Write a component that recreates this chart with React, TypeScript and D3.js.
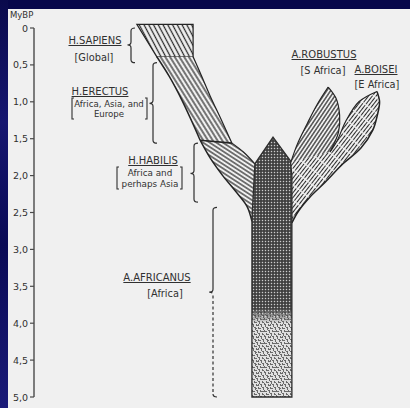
import React from "react";
import * as d3 from "d3";

const W = 410;
const H = 408;

// ---- axis data ----
const AXIS_TITLE = "MyBP";
const TICK_VALUES = [0, 0.5, 1, 1.5, 2, 2.5, 3, 3.5, 4, 4.5, 5];
const TICK_LABELS = ["0", "0,5", "1,0", "1,5", "2,0", "2,5", "3,0", "3,5", "4,0", "4,5", "5,0"];

// ---- taxa ----
const TAXA = ["H.SAPIENS", "H.ERECTUS", "H.HABILIS", "A.AFRICANUS", "A.ROBUSTUS", "A.BOISEI"];
const REGIONS = [["Global"], ["Africa, Asia, and", "Europe"], ["Africa and", "perhaps Asia"], ["Africa"], ["S Africa"], ["E Africa"]];
// time spans (MyBP) covered by each brace: [start, cusp, end]
const BRACE_SPANS = [
  [0, 0.23, 0.47],
  [0.47, 1.02, 1.56],
  [1.56, 1.97, 2.36],
  [2.43, 3.58, 5.0],
];

// ---- branch outlines: [morphology units (0-100), MyBP] ----
const SAPIENS_BLOCK: [number, number][] = [[27.8, -0.05], [43, -0.05], [43, 0.39], [33.2, 0.39]];
const ERECTUS_LEFT: [number, number][] = [[33.2, 0.39], [36.6, 0.66], [40, 0.98], [42.6, 1.26], [44.9, 1.52]];
const ERECTUS_RIGHT: [number, number][] = [[43, 0.39], [45.2, 0.64], [47.6, 0.92], [50.4, 1.22], [53.5, 1.56]];
const HABILIS_LEFT: [number, number][] = [[44.9, 1.52], [47.6, 1.76], [51, 2.0], [54.6, 2.22], [57.6, 2.42], [58.9, 2.62]];
const HABILIS_RIGHT: [number, number][] = [[53.5, 1.56], [56.6, 1.68], [59.7, 1.84]];
const AFRICANUS_TRUNK: [number, number][] = [[64.6, 1.48], [69.3, 1.8], [69.7, 2.0], [69.7, 5.0], [58.9, 5.0], [58.9, 2.6], [59.7, 1.84]];
const AFRICANUS_MOTTLE_START = 3.8;
const AFRICANUS_MOTTLE_FULL = 4.0;
const ROBUSTUS_LEFT: [number, number][] = [[69.4, 1.82], [71.2, 1.57], [73.8, 1.3], [76.6, 1.03], [79.5, 0.8]];
const ROBUSTUS_RIGHT: [number, number][] = [[79.5, 0.8], [81.6, 0.95], [82.6, 1.18], [82.3, 1.41], [80, 1.68]];
const BOISEI_LEFT: [number, number][] = [[80, 1.68], [82, 1.52], [84.2, 1.27], [87.8, 1.0], [92.7, 0.86]];
const BOISEI_RIGHT: [number, number][] = [[92.7, 0.86], [93.4, 1.0], [92.8, 1.18], [91.6, 1.38], [88.3, 1.63], [83.5, 1.84], [78.7, 2.09], [74.6, 2.29], [71.5, 2.48], [69.7, 2.64]];

// layout of annotations (pixels)
const LABEL_LAYOUT = [
  { x: 95, y: 44, rx: 94, ry: [61], rs: 9.8 },
  { x: 100, y: 95, rx: 109, ry: [107, 117], bx: [72, 147], rs: 8.6 },
  { x: 153, y: 164, rx: 150, ry: [176, 187], bx: [117, 182], rs: 8.8 },
  { x: 157, y: 281, rx: 165, ry: [297], rs: 9.8 },
  { x: 324, y: 58, rx: 323, ry: [74], rs: 9.8 },
  { x: 376, y: 73, rx: 377, ry: [88], rs: 9.8 },
];
const BRACE_X = [131, 153, 194, 213];

const INK = "#242424";
const TEXT = "#303030";
const PAPER = "#f0f0f0";
const FONT = "DejaVu Sans, sans-serif";

export default function App() {
  const xS = d3.scaleLinear().domain([0, 100]).range([34, 404]);
  const yS = d3.scaleLinear().domain([0, 5]).range([28, 397]);

  const curve = d3
    .line<[number, number]>()
    .x((d) => xS(d[0]))
    .y((d) => yS(d[1]))
    .curve(d3.curveCatmullRom.alpha(0.5));
  const straight = d3
    .line<[number, number]>()
    .x((d) => xS(d[0]))
    .y((d) => yS(d[1]));
  const closed = d3
    .line<[number, number]>()
    .x((d) => xS(d[0]))
    .y((d) => yS(d[1]))
    .curve(d3.curveLinearClosed);

  const cont = (p: string | null) => (p || "").replace(/^M/, "L");
  const rev = (a: [number, number][]) => a.slice().reverse();

  const erectusFill = (curve(ERECTUS_LEFT) || "") + cont(curve(rev(ERECTUS_RIGHT))) + "Z";
  const habLast = HABILIS_LEFT[HABILIS_LEFT.length - 1];
  const habRightEnd = HABILIS_RIGHT[HABILIS_RIGHT.length - 1];
  const habilisFill =
    (curve(HABILIS_LEFT) || "") +
    cont(straight([habLast, [habLast[0] + 2, habLast[1]], [habRightEnd[0] + 2, habRightEnd[1]], habRightEnd])) +
    cont(curve(rev(HABILIS_RIGHT))) +
    "Z";
  const robustusFill = (curve(ROBUSTUS_LEFT) || "") + cont(curve(ROBUSTUS_RIGHT)) + "Z";
  const boiseiFill =
    (curve(BOISEI_LEFT) || "") +
    cont(curve(BOISEI_RIGHT)) +
    cont(straight([BOISEI_RIGHT[BOISEI_RIGHT.length - 1], ROBUSTUS_LEFT[0]])) +
    "Z";

  const brace = (x: number, s: number[], i: number) => {
    const y0 = yS(s[0]);
    const ym = yS(s[1]);
    const y1 = yS(s[2]);
    const r = 3;
    if (i === 3) {
      return (
        <g key={"b" + i} stroke={TEXT} strokeWidth={1.2} fill="none">
          <path d={`M${x + 4},${y0} Q${x},${y0} ${x},${y0 + r} L${x},${ym - r} Q${x},${ym} ${x - 3.5},${ym}`} />
          <path d={`M${x - 3.5},${ym} Q${x},${ym} ${x},${ym + r} L${x},${y1 - r}`} strokeDasharray="3 2.5" />
          <path d={`M${x},${y1 - r} Q${x},${y1} ${x + 4},${y1}`} />
        </g>
      );
    }
    return (
      <path
        key={"b" + i}
        d={`M${x + 4},${y0} Q${x},${y0} ${x},${y0 + r} L${x},${ym - r} Q${x},${ym} ${x - 3.5},${ym} Q${x},${ym} ${x},${ym + r} L${x},${y1 - r} Q${x},${y1} ${x + 4},${y1}`}
        stroke={TEXT}
        strokeWidth={1.2}
        fill="none"
      />
    );
  };

  const hatch = (id: string, angle: number, gap: number, width: number, dash?: string) => (
    <pattern id={id} patternUnits="userSpaceOnUse" width={12} height={gap} patternTransform={`rotate(${angle})`}>
      <rect width={12} height={gap} fill={PAPER} />
      <line x1={0} x2={12} y1={gap / 2} y2={gap / 2} stroke="#2a2a2a" strokeWidth={width} strokeDasharray={dash} />
    </pattern>
  );

  const mottleBlobs = [
    [0, 0, 2, 1], [1, 1, 1, 2], [4, 0, 1, 2], [5, 1, 2, 1], [8, 0, 2, 1], [9, 1, 1, 2],
    [2, 3, 2, 1], [3, 4, 1, 2], [6, 3, 1, 2], [7, 4, 2, 1], [10, 3, 2, 1], [11, 4, 1, 2],
    [0, 6, 1, 2], [1, 7, 2, 1], [4, 6, 2, 1], [5, 7, 1, 2], [8, 6, 1, 2], [9, 7, 2, 1],
    [2, 9, 1, 2], [3, 10, 2, 1], [6, 9, 2, 1], [7, 10, 1, 2], [10, 9, 1, 2], [11, 10, 1, 1],
    [0, 11, 1, 1], [6, 0, 1, 1], [11, 7, 1, 1], [4, 4, 1, 1],
  ];

  const trunkPath = closed(AFRICANUS_TRUNK) || "";
  const tTop = yS(AFRICANUS_MOTTLE_START);
  const tFull = yS(AFRICANUS_MOTTLE_FULL);

  return (
    <svg width={W} height={H} style={{ position: "absolute", left: 0, top: 0 }} xmlns="http://www.w3.org/2000/svg">
      <defs>
        {hatch("hSap", 62, 4.2, 1.25)}
        {hatch("hEre", 58, 4.0, 1.25)}
        {hatch("hHab", 33, 3.6, 1.2)}
        {hatch("hRob", -56, 3.2, 1.2)}
        {hatch("hBoi", -52, 3.0, 1.2, "10 1.3")}
        <pattern id="checker" patternUnits="userSpaceOnUse" width={3} height={3}>
          <rect width={3} height={3} fill="#3a3a3a" />
          <rect x={0.8} y={0.8} width={1.4} height={1.4} fill="#cccccc" />
        </pattern>
        <pattern id="mottle" patternUnits="userSpaceOnUse" width={12} height={12}>
          <rect width={12} height={12} fill="#e0e0e0" />
          {mottleBlobs.map((b, i) => (
            <rect key={i} x={b[0]} y={b[1]} width={b[2]} height={b[3]} fill="#6a6a6a" />
          ))}
        </pattern>
        <linearGradient id="mottleFade" gradientUnits="userSpaceOnUse" x1={0} x2={0} y1={tTop} y2={tFull}>
          <stop offset="0" stopColor="#fff" stopOpacity={0} />
          <stop offset="1" stopColor="#fff" stopOpacity={1} />
        </linearGradient>
        <mask id="mottleMask" maskUnits="userSpaceOnUse" x={0} y={0} width={W} height={H}>
          <rect x={0} y={tTop} width={W} height={H - tTop} fill="url(#mottleFade)" />
        </mask>
        <clipPath id="trunkClip">
          <path d={trunkPath} />
        </clipPath>
        <linearGradient id="sideGrad" x1="0" x2="0" y1="0" y2="1">
          <stop offset="0" stopColor="#0a0a4c" />
          <stop offset="0.3" stopColor="#161670" />
          <stop offset="0.6" stopColor="#0a0a55" />
          <stop offset="1" stopColor="#1a1a78" />
        </linearGradient>
      </defs>

      {/* page */}
      <rect x={0} y={0} width={W} height={H} fill={PAPER} />
      <rect x={0} y={0} width={W} height={9} fill="#07074a" />
      <rect x={0} y={0} width={8} height={H} fill="url(#sideGrad)" />

      {/* axis */}
      <text x={10} y={18} fontSize={8.5} fontFamily={FONT} fill={TEXT}>
        {AXIS_TITLE}
      </text>
      <line x1={xS(0)} x2={xS(0)} y1={yS(0)} y2={yS(5)} stroke="#4a4a4a" strokeWidth={1.4} />
      {TICK_VALUES.map((v, i) => (
        <g key={v}>
          <line x1={xS(0) - 4} x2={xS(0)} y1={yS(v)} y2={yS(v)} stroke="#4a4a4a" strokeWidth={1.2} />
          <text x={xS(0) - 6} y={yS(v) + 3.5} fontSize={9.5} fontFamily={FONT} fill={TEXT} textAnchor="end">
            {TICK_LABELS[i]}
          </text>
        </g>
      ))}

      {/* left lineage */}
      <path d={closed(SAPIENS_BLOCK) || ""} fill="url(#hSap)" stroke={INK} strokeWidth={1.2} />
      <path d={erectusFill} fill="url(#hEre)" stroke="none" />
      <path d={curve(ERECTUS_LEFT) || ""} fill="none" stroke={INK} strokeWidth={1.5} />
      <path d={curve(ERECTUS_RIGHT) || ""} fill="none" stroke={INK} strokeWidth={1.2} />
      <path d={habilisFill} fill="url(#hHab)" stroke="none" />
      <path d={curve(HABILIS_LEFT) || ""} fill="none" stroke={INK} strokeWidth={1.5} />
      <path d={curve(HABILIS_RIGHT) || ""} fill="none" stroke={INK} strokeWidth={1.2} />
      <path d={straight([ERECTUS_LEFT[ERECTUS_LEFT.length - 1], ERECTUS_RIGHT[ERECTUS_RIGHT.length - 1]]) || ""} stroke={INK} strokeWidth={1.6} />

      {/* robust lineage */}
      <path d={boiseiFill} fill="url(#hBoi)" stroke="none" />
      <path d={robustusFill} fill="url(#hRob)" stroke="none" />
      <path d={curve(ROBUSTUS_LEFT) || ""} fill="none" stroke={INK} strokeWidth={1.2} />
      <path d={curve(ROBUSTUS_RIGHT) || ""} fill="none" stroke={INK} strokeWidth={1.2} />
      <path d={curve(BOISEI_LEFT) || ""} fill="none" stroke={INK} strokeWidth={1.2} />
      <path d={curve(BOISEI_RIGHT) || ""} fill="none" stroke={INK} strokeWidth={1.5} />

      {/* africanus trunk */}
      <path d={trunkPath} fill="url(#checker)" />
      <g clipPath="url(#trunkClip)">
        <rect x={0} y={tTop} width={W} height={H - tTop} fill="url(#mottle)" mask="url(#mottleMask)" />
      </g>
      <path d={trunkPath} fill="none" stroke="#2e2e2e" strokeWidth={1.3} />

      {/* braces */}
      {BRACE_SPANS.map((s, i) => brace(BRACE_X[i], s, i))}

      {/* labels */}
      {TAXA.map((name, i) => {
        const L = LABEL_LAYOUT[i];
        const multi = REGIONS[i].length > 1;
        return (
          <g key={name} fontFamily={FONT} fill={TEXT}>
            <text x={L.x} y={L.y} fontSize={10} textAnchor="middle" textDecoration="underline">
              {name}
            </text>
            {REGIONS[i].map((r, j) => (
              <text key={j} x={L.rx} y={L.ry[j]} fontSize={L.rs} textAnchor="middle">
                {multi ? r : `[${r}]`}
              </text>
            ))}
            {multi && L.bx && (
              <g stroke={TEXT} strokeWidth={1.1} fill="none">
                <path d={`M${L.bx[0] + 2},${L.ry[0] - 9} H${L.bx[0]} V${L.ry[1] + 2} H${L.bx[0] + 2}`} />
                <path d={`M${L.bx[1] - 2},${L.ry[0] - 9} H${L.bx[1]} V${L.ry[1] + 2} H${L.bx[1] - 2}`} />
              </g>
            )}
          </g>
        );
      })}
    </svg>
  );
}
